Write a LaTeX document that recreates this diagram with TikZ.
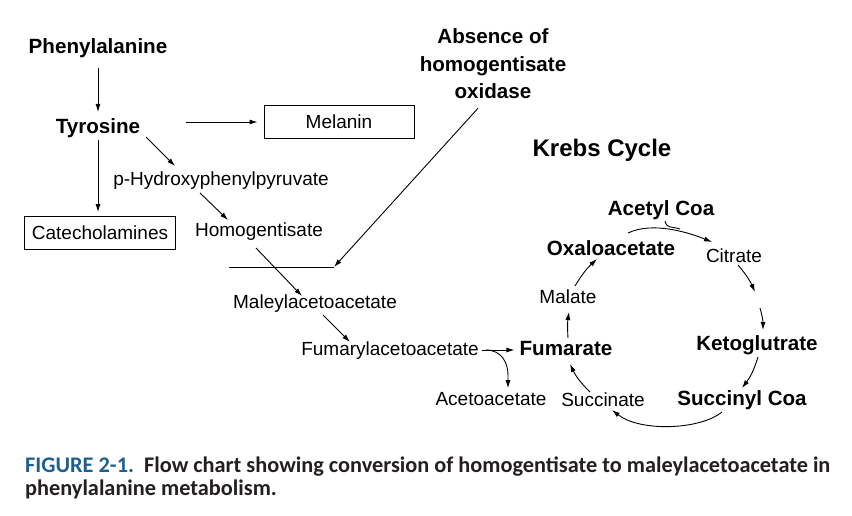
\documentclass[tikz,border=0pt]{standalone}
\usepackage{fontspec}
\setmainfont{Liberation Sans}
\newfontfamily\capfont{Carlito}
\usetikzlibrary{arrows.meta,calc}
\definecolor{figblue}{HTML}{1F5F8B}
\definecolor{captext}{HTML}{231F20}

\begin{document}
\begin{tikzpicture}[x=1pt,y=-1pt,font=\fontsize{19}{22}\selectfont]
    \tikzset{
      chem/.style={inner sep=1pt},
      key/.style={chem,font=\fontsize{20.6}{24}\selectfont\bfseries},
      boxed/.style={draw,line width=0.9pt,inner sep=0pt,minimum height=33pt},
      flow/.style={line width=0.9pt,-{Latex[length=8pt,width=5pt]}},
      plain/.style={line width=0.9pt}
    }
    \useasboundingbox (0,0) rectangle (852,516);

    % phenylalanine pathway
    \node[key] (phe) at (98,48) {Phenylalanine};
    \node[key] (tyr) at (98,128) {Tyrosine};
    \node[boxed,minimum width=150pt] (mel) at (339,122) {Melanin};
    \node[chem] (hpp) at (221,181) {p-Hydroxyphenylpyruvate};
    \node[boxed,minimum width=151pt] (cat) at (100,233) {Catecholamines};
    \node[chem] (hgs) at (259,232) {Homogentisate};
    \node[chem] (mal) at (315,304) {Maleylacetoacetate};
    \node[chem] (fum) at (390,351) {Fumarylacetoacetate};
    \node[chem] (ace) at (491,399) {Acetoacetate};
    \node[key,align=center,font=\fontsize{20.6}{27.5}\selectfont\bfseries] (abs) at (493,64)
      {Absence of\\homogentisate\\oxidase};
    \coordinate (barL) at (229,267);
    \coordinate (barR) at (334,267);

    \draw[flow] ($(phe)+(0,20)$) -- ($(tyr)+(0,-16)$);
    \draw[flow] ($(tyr)+(88,-6)$) -- ($(mel.west)+(-6,0)$);
    \draw[flow] ($(tyr)+(48,9)$) -- ($(hpp)+(-46,-15)$);
    \draw[flow] ($(tyr)+(0,12)$) -- ($(tyr|-cat.north)+(0,-4)$);
    \draw[flow] ($(hpp)+(-21,12)$) -- ($(hgs)+(-31,-12)$);
    \draw[flow] ($(hgs)+(-3,16)$) -- ($(mal)+(-13,-8)$);
    \draw[plain] (barL) -- (barR);
    \draw[flow] ($(abs.south)+(-15,8)$) -- (barR);
    \draw[flow] ($(mal)+(8,11)$) -- ($(fum)+(-40,-9)$);

    % Krebs cycle
    \node[key,font=\fontsize{24}{28}\selectfont\bfseries] (krebs) at (602,150) {Krebs Cycle};
    \node[key] (acc) at (661,210) {Acetyl Coa};
    \node[key] (oxa) at (611,248) {Oxaloacetate};
    \node[chem] (cit) at (734,256) {Citrate};
    \node[chem] (mlt) at (568,297) {Malate};
    \node[key] (fma) at (566,349) {Fumarate};
    \node[key] (keto) at (757,345) {Ketoglutrate};
    \node[chem] (suc) at (603,400) {Succinate};
    \node[key] (sca) at (742,400) {Succinyl Coa};

    \draw[flow] ($(fum.east)+(2,-1)$) -- ($(fum.east-|fma.west)+(-4,-1)$);
    \draw[flow] ($(fum.east)+(6,-1)$) .. controls +(16,0) and +(0,-12) .. ($(ace.north)+(17,-16)$)
      -- ($(ace.north)+(17,-3)$);

    \draw[flow] ($(oxa)+(17,-15)$) .. controls +(25,-12) and +(-22,-9) .. ($(cit)+(-22,-14)$);
    \draw[plain] ($(acc)+(4,11)$) .. controls +(2,8) and +(-9,-3) .. ($(acc)+(19,19)$);
    \draw[flow] ($(cit)+(4,9)$) to[bend left=8] ($(cit)+(21,36)$);
    \draw[flow] ($(keto)+(3,-37)$) to[bend left=8] ($(keto)+(6,-15)$);
    \draw[flow] ($(keto)+(1,12)$) to[bend left=10] ($(sca)+(0,-12)$);
    \draw[flow] ($(sca)+(-20,12)$) .. controls +(-22,18) and +(28,22) .. ($(suc)+(9,10)$);
    \draw[flow] ($(suc)+(-13,-8)$) to[bend left=10] ($(fma)+(4,15)$);
    \draw[flow] ($(fma)+(2,-11)$) to[bend left=6] ($(mlt)+(1,15)$);
    \draw[flow] ($(mlt)+(7,-11)$) to[bend left=8] ($(oxa)+(-14,11)$);

    % caption
    \node[anchor=west,align=left,inner sep=0pt,text=captext,
      font=\capfont\bfseries\fontsize{22.3}{23}\selectfont] (cap) at (25,478)
      {\textcolor{figblue}{FIGURE 2-1.}\ \ Flow chart showing conversion of homogentisate to maleylacetoacetate in\\
       phenylalanine metabolism.};
\end{tikzpicture}
\end{document}
